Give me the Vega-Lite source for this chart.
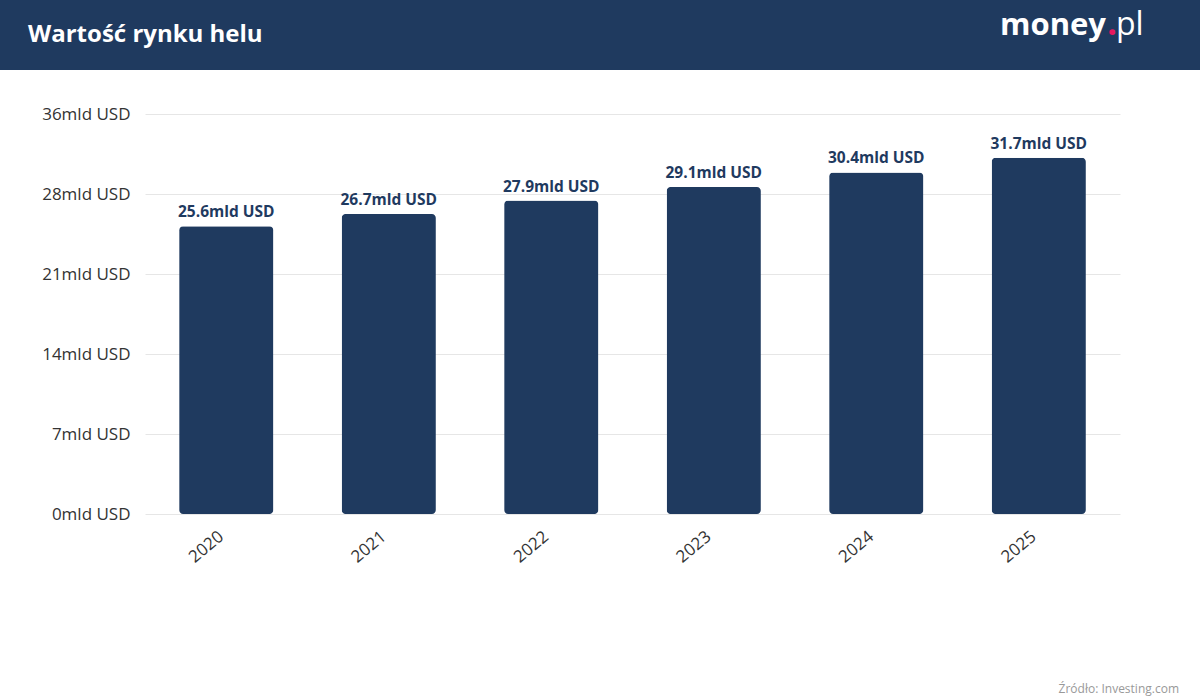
{
  "$schema": "https://vega.github.io/schema/vega-lite/v6.json",
  "background": "white",
  "padding": 0,
  "config": {"view": {"stroke": null}, "font": "Open Sans"},
  "bounds": "flush",
  "spacing": 44,
  "title": {"text": "Źródło: Investing.com", "orient": "bottom", "anchor": "end", "fontSize": 12, "color": "#999999", "fontWeight": "normal", "font": "Open Sans", "offset": 119, "dx": -21},
  "vconcat": [
    {
      "width": 1200,
      "height": 70,
      "view": {"fill": "#1f3a5f", "stroke": null},
      "data": {"values": [
        {"slot": "left", "label": "Wartość rynku helu", "part": "title"},
        {"slot": "right", "label": "money", "part": "brand"},
        {"slot": "right", "label": ".", "part": "dot"},
        {"slot": "right", "label": "pl", "part": "tld"}
      ]},
      "encoding": {
        "x": {"field": "slot", "type": "nominal", "scale": {"type": "point", "domain": ["left", "right"], "padding": 0}, "axis": null},
        "text": {"field": "label"}
      },
      "layer": [
        {"transform": [{"filter": "datum.part === 'title'"}], "mark": {"type": "text", "align": "left", "baseline": "alphabetic", "dx": 28, "dy": 7, "fontSize": 24, "fontWeight": "bold", "color": "white", "font": "Open Sans"}},
        {"transform": [{"filter": "datum.part === 'brand'"}], "mark": {"type": "text", "align": "right", "baseline": "alphabetic", "dx": -94, "dy": 0, "fontSize": 31, "fontWeight": "bold", "color": "white", "font": "Open Sans"}},
        {"transform": [{"filter": "datum.part === 'dot'"}], "mark": {"type": "text", "align": "center", "baseline": "alphabetic", "dx": -88, "dy": 0, "fontSize": 34, "fontWeight": "bold", "color": "#e8185f", "font": "Open Sans"}},
        {"transform": [{"filter": "datum.part === 'tld'"}], "mark": {"type": "text", "align": "left", "baseline": "alphabetic", "dx": -84, "dy": 0, "fontSize": 32, "fontWeight": "normal", "color": "white", "font": "Open Sans"}}
      ]
    },
    {
      "width": 1200,
      "height": 400,
      "data": {"values": [
        {"year": "2020", "value": 25.6, "label": "25.6mld USD"},
        {"year": "2021", "value": 26.7, "label": "26.7mld USD"},
        {"year": "2022", "value": 27.9, "label": "27.9mld USD"},
        {"year": "2023", "value": 29.1, "label": "29.1mld USD"},
        {"year": "2024", "value": 30.4, "label": "30.4mld USD"},
        {"year": "2025", "value": 31.7, "label": "31.7mld USD"}
      ]},
      "encoding": {
        "x": {"field": "year", "type": "ordinal", "scale": {"range": [145, 1120], "paddingInner": 0.42, "paddingOuter": 0.21}, "axis": {"title": null, "labelAngle": -40, "labelFontSize": 17, "labelColor": "#333333", "ticks": false, "domain": false, "labelPadding": 14, "labelOffset": -10, "grid": false}},
        "y": {"field": "value", "type": "quantitative", "scale": {"domain": [0, 35.6], "nice": false}, "axis": {"title": null, "offset": -145, "values": [0, 7.12, 14.24, 21.36, 28.48, 35.6], "labelExpr": "round(datum.value) + 'mld USD'", "labelFontSize": 17, "labelColor": "#333333", "ticks": false, "domain": false, "gridColor": "#e6e6e6", "labelPadding": 15}}
      },
      "layer": [
        {"mark": {"type": "bar", "color": "#1f3a5f", "cornerRadius": 4}},
        {"mark": {"type": "text", "baseline": "bottom", "dy": -6, "fontSize": 15.5, "fontWeight": "bold", "color": "#1f3a5f", "font": "Open Sans"}, "encoding": {"text": {"field": "label"}}}
      ]
    }
  ]
}
